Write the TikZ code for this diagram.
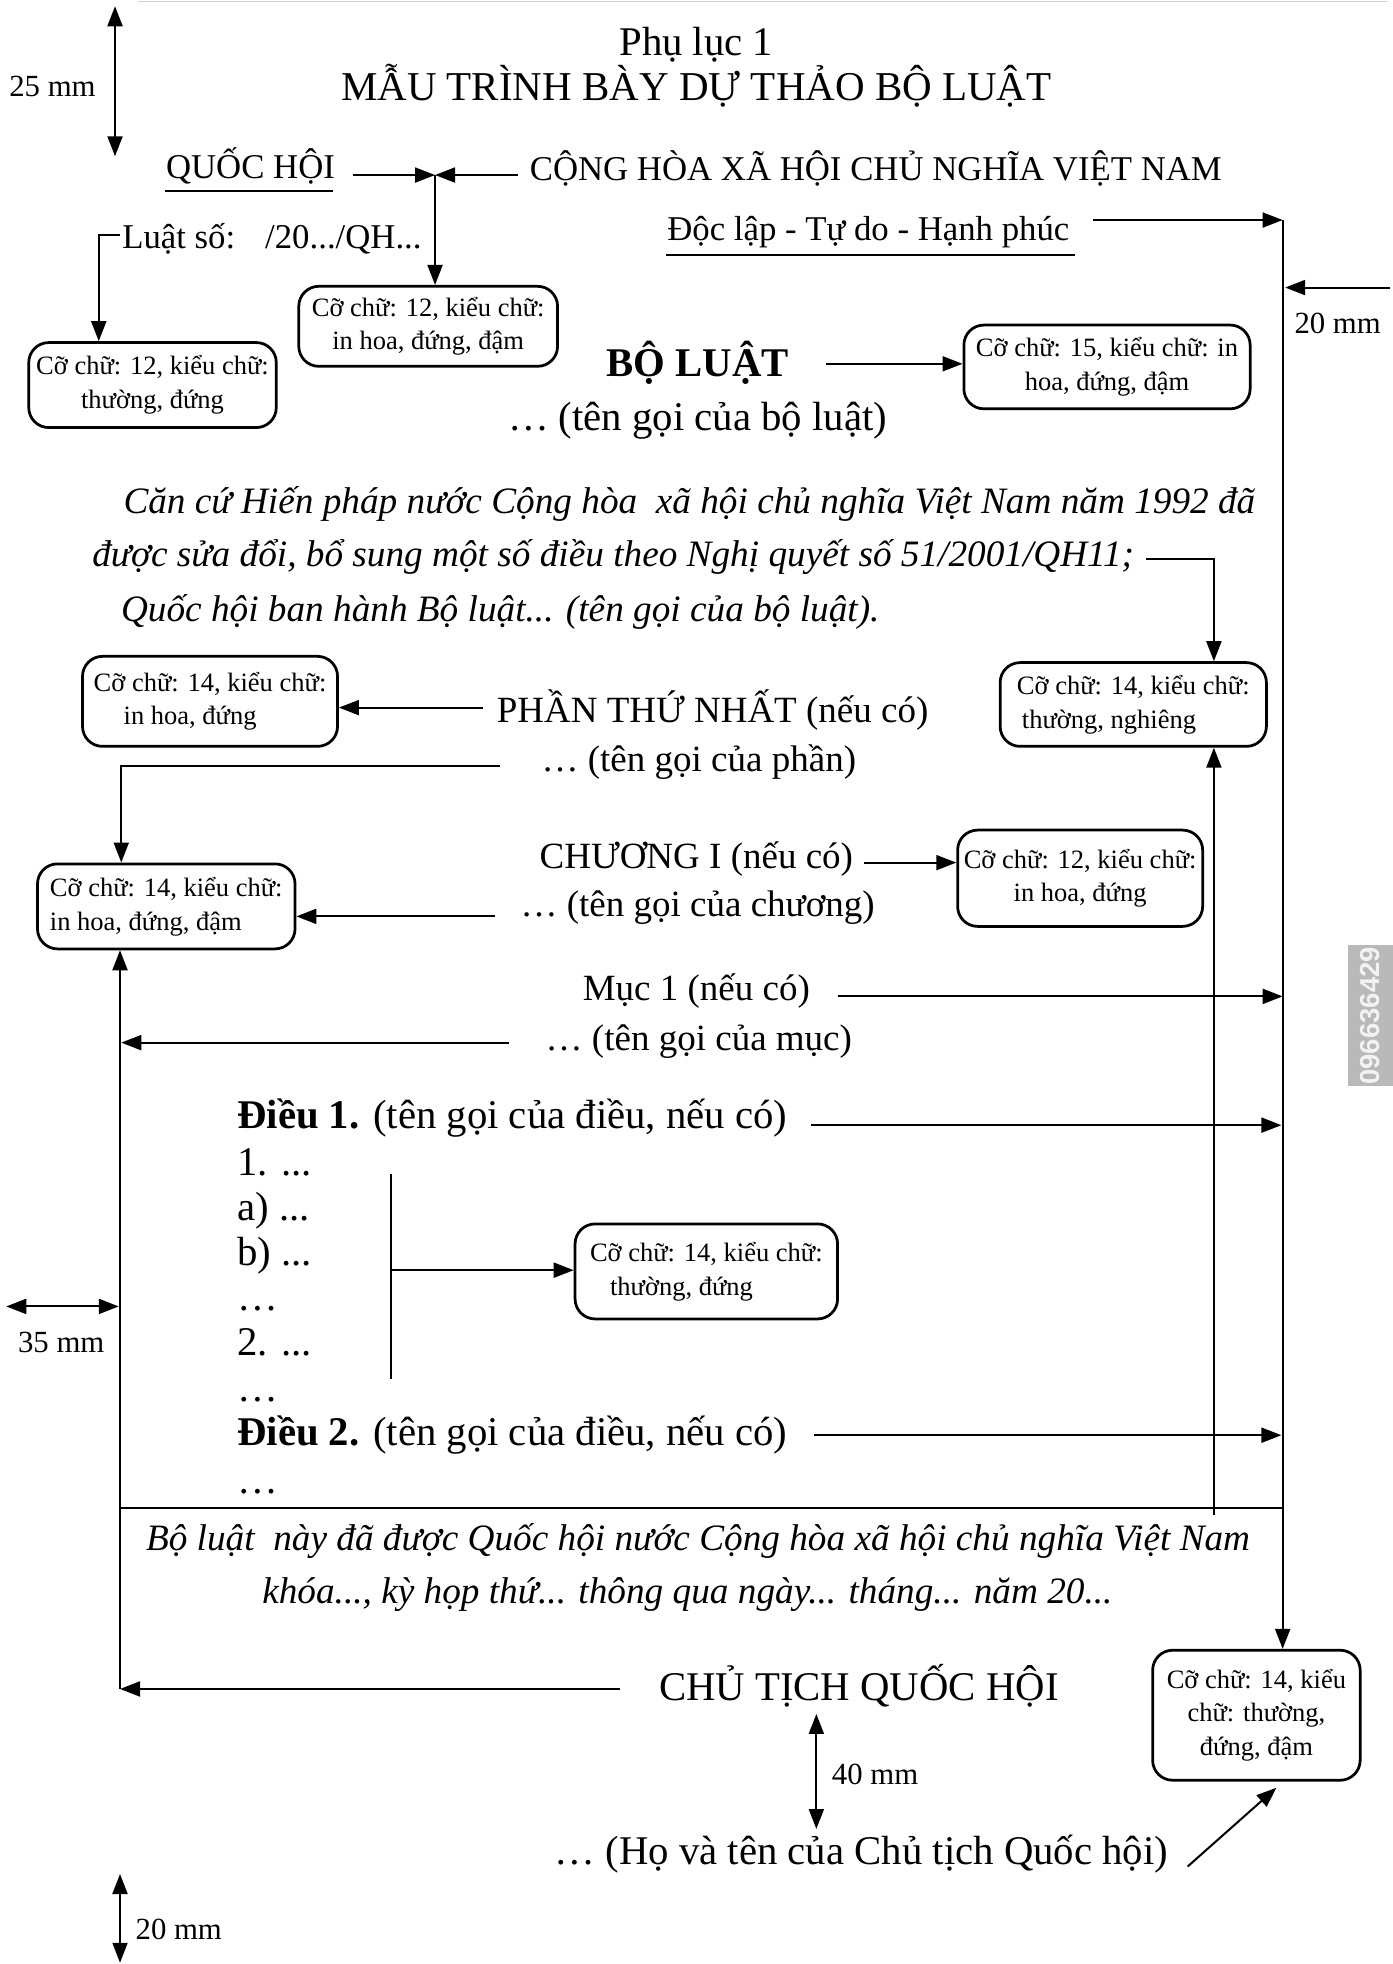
\documentclass[tikz,border=0pt]{standalone}
\usepackage{fontspec}
\setmainfont{Liberation Serif}
\newfontfamily\wmfont{Liberation Sans}
\usetikzlibrary{arrows.meta}
\begin{document}
\begin{tikzpicture}[x=0.5pt,y=-0.5pt,
  line width=0.8pt,
  ar/.style={-{Triangle[length=8pt,width=6pt]}},
  dar/.style={{Triangle[length=8pt,width=6pt]}-{Triangle[length=8pt,width=6pt]}},
  bx/.style={draw, line width=1.1pt, rounded corners=8pt, inner sep=0pt, font=\fontsize{10.6}{13.5}\selectfont, align=center},
  body/.style={inner sep=0pt, font=\fontsize{13.9}{16}\selectfont},
  mid/.style={inner sep=0pt, font=\fontsize{14.8}{17}\selectfont},
  big/.style={inner sep=0pt, font=\fontsize{16.3}{18}\selectfont},
  ttl/.style={inner sep=0pt, font=\fontsize{16.4}{18}\selectfont},
  lab/.style={inner sep=0pt, font=\fontsize{12.3}{14}\selectfont},
  it/.style={inner sep=0pt, font=\fontsize{14.9}{17}\selectfont\itshape},
]
\useasboundingbox (0,0) rectangle (1114,1571);
\draw[gray!35, line width=0.6pt] (110,1) -- (1110,1);

% ---------- texts ----------
\node[big,anchor=base] (phuluc) at (557,44) {Phụ lục 1};
\node[ttl,anchor=base] (tieude) at (557,80) {MẪU TRÌNH BÀY DỰ THẢO BỘ LUẬT};
\node[body,anchor=base west] (qh) at (132,143) {QUỐC HỘI};
\draw (132,153) -- (266,153);
\node[body,anchor=base west] (chxh) at (423,144) {CỘNG HÒA XÃ HỘI CHỦ NGHĨA VIỆT NAM};
\node[body,anchor=base west] (dl) at (533,192) {Độc lập - Tự do - Hạnh phúc};
\draw (533,204) -- (860,204);
\node[body,anchor=base west] (ls) at (97,199) {Luật số:\hspace{12pt}/20.../QH...};
\node[big,anchor=base] (boluat) at (558,301) {\textbf{BỘ LUẬT}};
\node[big,anchor=base] (tgbl) at (558,344) {\ldots{} (tên gọi của bộ luật)};
\node[it,anchor=base west] (cc1) at (98,411) {Căn cứ Hiến pháp nước Cộng hòa\ \ xã hội chủ nghĩa Việt Nam năm 1992 đã};
\node[it,anchor=base west] (cc2) at (73,453) {được sửa đổi, bổ sung một số điều theo Nghị quyết số 51/2001/QH11;};
\node[it,anchor=base west] (cc3) at (96,497) {Quốc hội ban hành Bộ luật... (tên gọi của bộ luật).};
\node[mid,anchor=base] (phan) at (570,578) {PHẦN THỨ NHẤT (nếu có)};
\node[mid,anchor=base] (tgp) at (559,617) {\ldots{} (tên gọi của phần)};
\node[mid,anchor=base] (chuong) at (557,695) {CHƯƠNG I (nếu có)};
\node[mid,anchor=base] (tgc) at (558,733) {\ldots{} (tên gọi của chương)};
\node[mid,anchor=base] (muc) at (557,800) {Mục 1 (nếu có)};
\node[mid,anchor=base] (tgm) at (559,840) {\ldots{} (tên gọi của mục)};
\node[big,anchor=base west] (d1) at (189,903) {\textbf{Điều 1.} (tên gọi của điều, nếu có)};
\node[big,anchor=base west] (i1) at (189,940) {1. ...};
\node[big,anchor=base west] (ia) at (189,976) {a) ...};
\node[big,anchor=base west] (ib) at (189,1012) {b) ...};
\node[big,anchor=base west] (e1) at (189,1048) {\ldots};
\node[big,anchor=base west] (i2) at (189,1084) {2. ...};
\node[big,anchor=base west] (e2) at (189,1121) {\ldots};
\node[big,anchor=base west] (d2) at (189,1156) {\textbf{Điều 2.} (tên gọi của điều, nếu có)};
\node[big,anchor=base west] (e3) at (189,1195) {\ldots};
\node[it,anchor=base west] (bl1) at (116,1240) {Bộ luật\ \ này đã được Quốc hội nước Cộng hòa xã hội chủ nghĩa Việt Nam};
\node[it,anchor=base west] (bl2) at (209,1283) {khóa..., kỳ họp thứ... thông qua ngày... tháng... năm 20...};
\node[big,anchor=base] (ct) at (687,1360) {CHỦ TỊCH QUỐC HỘI};
\node[big,anchor=base] (hvt) at (689,1491) {\ldots{} (Họ và tên của Chủ tịch Quốc hội)};

% ---------- dimension labels ----------
\node[lab,anchor=base] (l25) at (42,77) {25 mm};
\node[lab,anchor=base] (l20a) at (1070,267) {20 mm};
\node[lab,anchor=base] (l35) at (49,1082) {35 mm};
\node[lab,anchor=base] (l40) at (700,1427) {40 mm};
\node[lab,anchor=base] (l20b) at (143,1551) {20 mm};

% ---------- boxes ----------
\node[bx, minimum width=103.5pt, minimum height=32pt] (bA) at (342.5,261) {Cỡ chữ: 12, kiểu chữ:\\in hoa, đứng, đậm};
\node[bx, minimum width=99pt, minimum height=34pt] (bB) at (122,308) {Cỡ chữ: 12, kiểu chữ:\\thường, đứng};
\node[bx, minimum width=114.5pt, minimum height=33.5pt] (bC) at (885.5,293.5) {Cỡ chữ: 15, kiểu chữ: in\\hoa, đứng, đậm};
\node[bx, minimum width=106.5pt, minimum height=33.5pt, align=left] (bD) at (906.5,563.5) {Cỡ chữ: 14, kiểu chữ:\\\hspace{2pt}thường, nghiêng};
\node[bx, minimum width=102pt, minimum height=36pt, align=left] (bE) at (168,561) {Cỡ chữ: 14, kiểu chữ:\\\hspace{12pt}in hoa, đứng};
\node[bx, minimum width=103pt, minimum height=34pt, align=left] (bF) at (133,725) {Cỡ chữ: 14, kiểu chữ:\\in hoa, đứng, đậm};
\node[bx, minimum width=98pt, minimum height=38.5pt] (bG) at (864,702.5) {Cỡ chữ: 12, kiểu chữ:\\in hoa, đứng};
\node[bx, minimum width=105pt, minimum height=38pt, align=left] (bH) at (565,1017) {Cỡ chữ: 14, kiểu chữ:\\\hspace{8pt}thường, đứng};
\node[bx, minimum width=83pt, minimum height=52pt] (bI) at (1005,1372) {Cỡ chữ: 14, kiểu\\chữ: thường,\\đứng, đậm};

% ---------- watermark ----------
\fill[gray!55] (1078,756) rectangle (1114,869);
\node[rotate=90, text=white!90!gray, inner sep=0pt, font=\wmfont\bfseries\fontsize{11}{11}\selectfont] (wm) at (1096,812.5) {096636429};

% ---------- connector coordinates ----------
\coordinate (qhR) at (282,140);
\coordinate (jn) at (348,140);
\coordinate (chL) at (414,140);
\coordinate (lsL) at (96,188);
\coordinate (lsC) at (79,188);
\coordinate (dlR) at (874,176);
\coordinate (rTop) at (1026,176);
\coordinate (rBot) at (1026,1206);
\coordinate (mmA) at (1112,230);
\coordinate (mmB) at (1028,230);
\coordinate (blR) at (661,291);
\coordinate (ccR) at (917,447);
\coordinate (ccC) at (971,447);
\coordinate (phL) at (386,566);
\coordinate (tpL) at (400,613);
\coordinate (tpC) at (97,613);
\coordinate (chR) at (691,690);
\coordinate (tcL) at (396,733);
\coordinate (upB) at (971,1212);
\coordinate (lBot) at (96,1351);
\coordinate (mR) at (670,797);
\coordinate (mR2) at (1026,797);
\coordinate (tmL) at (407,834);
\coordinate (tmE) at (97,834);
\coordinate (d1R) at (649,900);
\coordinate (d1E) at (1025,900);
\coordinate (brT) at (313,939);
\coordinate (brB) at (313,1103);
\coordinate (brM) at (313,1016);
\coordinate (d2R) at (651,1148);
\coordinate (d2E) at (1025,1148);
\coordinate (hL) at (96,1206);
\coordinate (ctL) at (496,1351);
\coordinate (dgA) at (950,1493);
\coordinate (dgB) at (1021,1430);

% ---------- connectors ----------
\draw[ar] (qhR) -- (jn);
\draw[ar] (chL) -- (jn);
\draw[ar] (jn) -- (jn |- bA.north);
\draw[ar] (lsL) -- (lsC) -- (lsC |- bB.north);
\draw[ar] (dlR) -- (rTop);
\draw (rTop) -- (rBot);
\draw[ar] (rBot) -- (rBot |- bI.north);
\draw[ar] (mmA) -- (mmB);
\draw[ar] (blR) -- (blR -| bC.west);
\draw[ar] (ccR) -- (ccC) -- (ccC |- bD.north);
\draw[ar] (phL) -- (phL -| bE.east);
\draw[ar] (tpL) -- (tpC) -- (tpC |- bF.north);
\draw[ar] (chR) -- (chR -| bG.west);
\draw[ar] (tcL) -- (tcL -| bF.east);
\draw[ar] (upB) -- (upB |- bD.south);
\draw[ar] (lBot) -- (lBot |- bF.south);
\draw[ar] (mR) -- (mR2);
\draw[ar] (tmL) -- (tmE);
\draw[ar] (d1R) -- (d1E);
\draw (brT) -- (brB);
\draw[ar] (brM) -- (brM -| bH.west);
\draw[ar] (d2R) -- (d2E);
\draw (hL) -- (rBot);
\draw[ar] (ctL) -- (lBot);
\draw[ar] (dgA) -- (dgB);

% ---------- dimension arrows ----------
\coordinate (a25t) at (92,5);
\coordinate (a25b) at (92,125);
\draw[dar] (a25t) -- (a25b);
\coordinate (a35l) at (5,1045);
\coordinate (a35r) at (95,1045);
\draw[dar] (a35l) -- (a35r);
\coordinate (a40t) at (653,1371);
\coordinate (a40b) at (653,1463);
\draw[dar] (a40t) -- (a40b);
\coordinate (a20t) at (96,1499);
\coordinate (a20b) at (96,1570);
\draw[dar] (a20t) -- (a20b);
\end{tikzpicture}
\end{document}
